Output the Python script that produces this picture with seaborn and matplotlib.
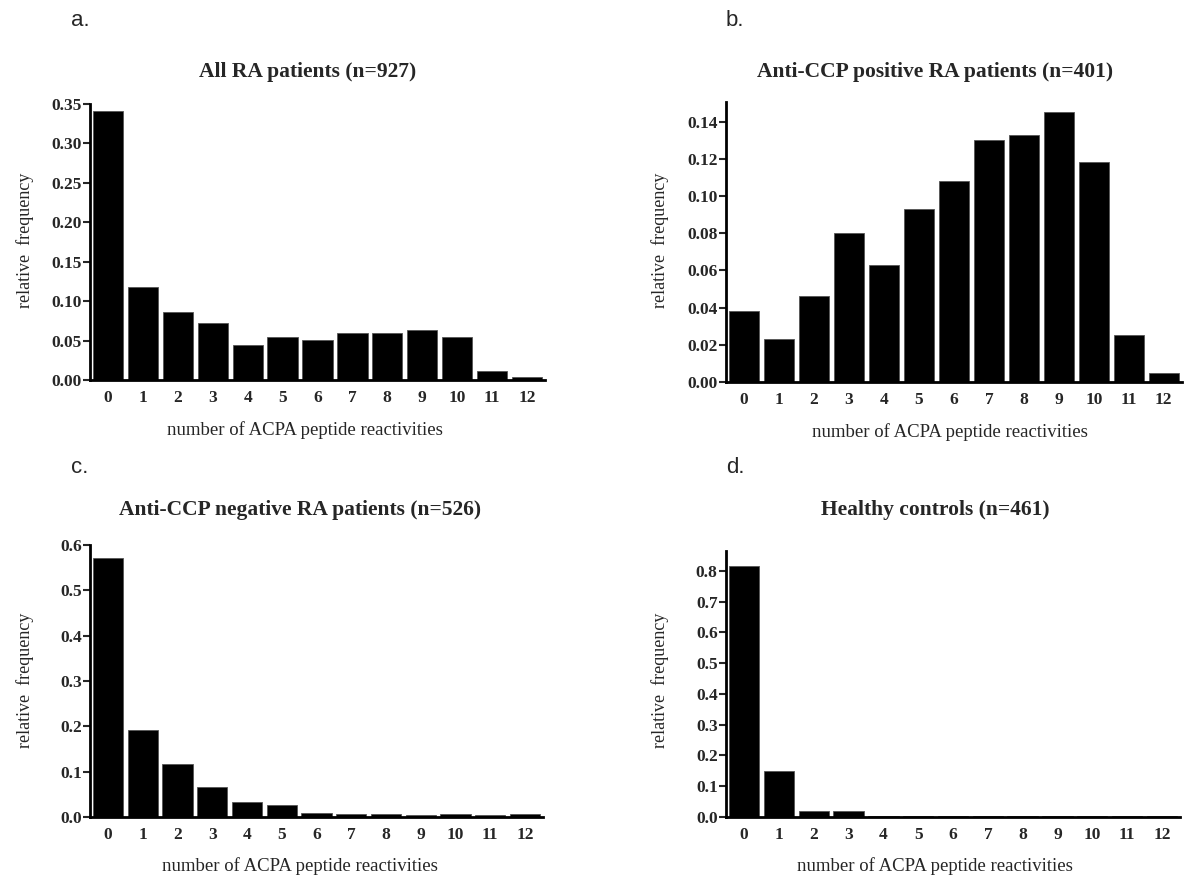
import matplotlib
matplotlib.use("Agg")
import matplotlib.pyplot as plt
import seaborn as sns
import pandas as pd

reactivities = list(range(13))

all_ra = [0.341, 0.118, 0.086, 0.072, 0.045, 0.054, 0.051, 0.060, 0.060, 0.064, 0.054, 0.012, 0.004]
ccp_pos = [0.038, 0.023, 0.046, 0.080, 0.063, 0.093, 0.108, 0.130, 0.133, 0.145, 0.118, 0.025, 0.005]
ccp_neg = [0.572, 0.191, 0.117, 0.066, 0.032, 0.026, 0.0095, 0.0076, 0.0057, 0.0038, 0.0057, 0.0038, 0.0057]
healthy = [0.815, 0.151, 0.021, 0.021, 0.0043, 0.0022, 0.0022, 0.0022, 0.0043, 0.0022, 0.0022, 0.0022, 0.0043]

titles = ["All RA patients (n=927)", "Anti-CCP positive RA patients (n=401)",
          "Anti-CCP negative RA patients (n=526)", "Healthy controls (n=461)"]
letters = ["a.", "b.", "c.", "d."]

sns.set_theme(style="ticks")
plt.rcParams["font.family"] = ["Liberation Serif", "DejaVu Serif"]

W, H = 1200, 885
fig = plt.figure(figsize=(12, 8.85), dpi=100)

# panel boxes in pixels: left, right, top, bottom
boxes = [(90, 545, 104, 380), (726, 1182, 102, 382), (90, 543, 545, 817), (726, 1180, 551, 817)]
ylims = [0.35, 0.1505, 0.6, 0.865]
yticks = [[0, 0.05, 0.10, 0.15, 0.20, 0.25, 0.30, 0.35],
          [0, 0.02, 0.04, 0.06, 0.08, 0.10, 0.12, 0.14],
          [0, 0.1, 0.2, 0.3, 0.4, 0.5, 0.6],
          [0, 0.1, 0.2, 0.3, 0.4, 0.5, 0.6, 0.7, 0.8]]
yfmt = ["{:.2f}", "{:.2f}", "{:.1f}", "{:.1f}"]
title_pos = [(308, 72), (935, 72), (300, 510), (935, 510)]
xlab_pos = [(305, 430), (950, 432), (300, 866), (935, 866)]
ylab_pos = [(25, 240), (660, 240), (25, 680), (660, 680)]
letter_pos = [(80, 20), (735, 20), (80, 467), (735, 467)]

for i, vals in enumerate([all_ra, ccp_pos, ccp_neg, healthy]):
    l, r, t, b = boxes[i]
    ax = fig.add_axes([l / W, (H - b) / H, (r - l) / W, (b - t) / H])
    df = pd.DataFrame({"n": reactivities, "freq": vals})
    sns.barplot(data=df, x="n", y="freq", ax=ax, color="black", width=0.87,
                saturation=1, edgecolor="#555555", linewidth=0.6)
    ax.set_xlim(-0.52, 12.52)
    ax.set_ylim(0, ylims[i])
    ax.set_yticks(yticks[i])
    ax.set_yticklabels([yfmt[i].format(v) for v in yticks[i]])
    ax.set_xlabel("")
    ax.set_ylabel("")
    sns.despine(ax=ax)
    for s in ["left", "bottom"]:
        ax.spines[s].set_linewidth(2)
        ax.spines[s].set_color("black")
    ax.tick_params(axis="y", length=5, width=1.5, pad=1, labelsize=12.5)
    ax.tick_params(axis="x", length=0, pad=7, labelsize=12.5)
    for lab in ax.get_xticklabels() + ax.get_yticklabels():
        lab.set_fontweight("bold")

    fig.text(title_pos[i][0] / W, 1 - title_pos[i][1] / H, titles[i],
             ha="center", va="center", fontsize=15.5, fontweight="bold")
    fig.text(xlab_pos[i][0] / W, 1 - xlab_pos[i][1] / H, "number of ACPA peptide reactivities",
             ha="center", va="center", fontsize=13.5)
    fig.text(ylab_pos[i][0] / W, 1 - ylab_pos[i][1] / H, "relative  frequency",
             ha="center", va="center", rotation=90, fontsize=13)
    fig.text(letter_pos[i][0] / W, 1 - letter_pos[i][1] / H, letters[i],
             ha="center", va="center", fontsize=16, family=["Liberation Sans", "DejaVu Sans"])

fig.savefig("out.png", dpi=100, facecolor="white")
